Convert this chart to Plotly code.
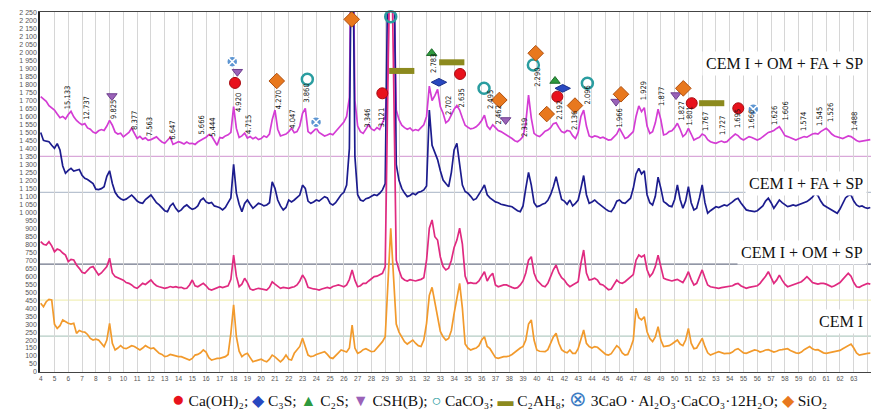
import numpy as np
import plotly.graph_objects as go

# 2-theta sampling grid (degrees), 4.0 .. 64.2 step 0.2
two_theta = np.round(np.arange(4.0, 64.21, 0.2), 1)

# Intensity (counts), one group of 5 values per degree
cem_i_om_fa_sp = [
    1724,1712,1695,1668,1652, 1640,1615,1592,1600,1585, 1612,1632,1598,1575,1560, 1548,1555,1528,1520,1502, 1495,1510,1518,1512,1540,
    1575,1545,1502,1490,1495, 1472,1485,1500,1526,1490, 1462,1475,1458,1466,1450, 1455,1462,1472,1455,1440, 1432,1448,1470,1425,1435,
    1442,1436,1428,1440,1430, 1432,1425,1440,1452,1460, 1470,1486,1478,1452,1420, 1468,1465,1478,1485,1500, 1662,1525,1468,1478,1496,
    1465,1474,1460,1470,1455, 1462,1478,1470,1490,1580, 1640,1520,1478,1482,1490, 1505,1526,1498,1505,1540, 1620,1650,1505,1492,1510,
    1526,1500,1490,1478,1484, 1492,1485,1505,1520,1545, 1565,1600,1720,3200,1700, 1540,1505,1494,1520,1548, 1522,1512,1530,1518,1560,
    1600,1900,3200,2600,1640, 1580,1545,1530,1520,1528, 1510,1518,1512,1530,1548, 1600,1790,1700,1730,1770, 1660,1620,1560,1575,1610,
    1645,1668,1640,1590,1545, 1532,1522,1526,1535,1552, 1575,1608,1540,1520,1548, 1530,1512,1505,1495,1480, 1474,1462,1448,1442,1455,
    1474,1560,1734,1590,1494, 1480,1474,1490,1508,1515, 1530,1555,1560,1530,1505, 1498,1512,1508,1480,1462, 1500,1600,1640,1540,1478,
    1470,1478,1474,1465,1470, 1460,1452,1455,1470,1490, 1525,1490,1462,1470,1490, 1505,1600,1666,1630,1655, 1540,1494,1505,1560,1645,
    1580,1484,1490,1505,1510, 1530,1557,1520,1474,1490, 1526,1490,1452,1462,1470, 1490,1480,1455,1442,1436, 1432,1440,1446,1438,1442,
    1460,1475,1490,1480,1462, 1452,1462,1474,1468,1458, 1452,1460,1472,1488,1500, 1505,1512,1525,1536,1510, 1480,1474,1466,1458,1452,
    1460,1468,1474,1470,1480, 1490,1494,1490,1505,1515, 1526,1510,1490,1478,1474, 1468,1462,1470,1478,1474, 1460,1450,1442,1445,1450,
    1452,1455,
]
cem_i_fa_sp = [
    1500,1450,1445,1442,1420, 1401,1430,1390,1290,1244, 1262,1275,1258,1262,1268, 1232,1213,1205,1195,1180, 1145,1142,1148,1160,1225,
    1260,1180,1125,1100,1085, 1077,1082,1095,1108,1090, 1070,1060,1056,1080,1095, 1108,1085,1060,1046,1030, 1010,1004,1040,1056,1025,
    1004,1015,1035,1046,1030, 1018,1025,1040,1075,1088, 1065,1056,1062,1040,1035, 1028,1015,1030,1060,1090, 1300,1120,1050,1004,1055,
    1077,1050,1025,1040,1056, 1050,1040,1046,1060,1190, 1150,1077,1040,1015,1030, 1077,1065,1077,1095,1108, 1170,1150,1070,1056,1065,
    1077,1070,1085,1098,1090, 1055,1046,1060,1085,1110, 1125,1170,1400,3200,1350, 1110,1077,1070,1085,1090, 1100,1110,1105,1119,1140,
    1180,2600,3500,2900,1300, 1200,1150,1120,1098,1105, 1119,1110,1125,1130,1140, 1165,1640,1420,1380,1330, 1260,1202,1180,1160,1250,
    1390,1432,1300,1170,1130, 1119,1100,1077,1085,1110, 1140,1171,1110,1090,1077, 1065,1060,1050,1046,1040, 1038,1035,1020,1010,1004,
    1040,1150,1250,1170,1060, 1035,1040,1050,1056,1075, 1110,1160,1223,1150,1080, 1070,1050,1077,1040,1056, 1077,1150,1230,1110,1056,
    1065,1077,1060,1045,1035, 1020,1008,1004,1030,1070, 1077,1060,1056,1070,1088, 1150,1240,1275,1240,1260, 1110,1060,1046,1100,1220,
    1150,1067,1055,1040,1035, 1080,1171,1080,1025,1070, 1160,1060,1015,1025,1090, 1171,1060,994,1010,1025, 1035,1030,1040,1046,1040,
    1050,1065,1080,1088,1060, 1035,1015,1010,1008,1004, 1010,1025,1040,1070,1088, 1060,1025,1050,1077,1060, 1045,1035,1040,1046,1040,
    1046,1055,1060,1067,1080, 1095,1119,1105,1070,1045, 1035,1025,1010,1000,994, 1020,1060,1090,1105,1108, 1070,1046,1035,1040,1030,
    1025,1030,
]
cem_i_om_sp = [
    816,800,795,816,790, 753,770,763,745,732, 691,705,701,670,649, 625,618,640,655,660, 635,607,620,639,660,
    712,620,597,590,587, 575,560,555,545,530, 524,540,555,548,560, 576,555,540,534,530, 524,528,535,530,534,
    528,530,522,524,545, 576,540,534,545,555, 540,520,513,520,530, 534,528,534,540,580, 732,600,534,550,587,
    560,520,513,518,524, 520,515,513,530,565, 550,534,524,530,528, 524,530,534,545,570, 607,580,530,524,520,
    518,513,520,524,530, 524,535,540,545,540, 534,545,580,639,575, 534,540,555,555,570, 585,597,600,610,618,
    660,1800,3000,1900,700, 639,590,576,570,578, 576,570,575,580,590, 700,900,952,847,826, 720,660,639,650,700,
    780,826,900,800,600, 555,560,555,555,570, 600,628,570,600,618, 545,534,540,545,545, 535,530,524,528,545,
    570,620,700,722,620, 576,555,540,534,555, 597,640,670,620,590, 576,550,534,545,555, 565,680,764,620,576,
    580,587,575,550,545, 530,515,520,545,576, 560,555,565,580,590, 610,700,732,720,732, 640,597,618,660,732,
    650,587,580,576,570, 575,580,570,560,590, 628,580,545,555,600, 639,590,545,534,530, 528,524,528,530,534,
    534,540,550,555,540, 530,524,530,534,534, 540,555,575,600,628, 590,555,575,607,575, 550,534,540,545,550,
    555,565,580,597,580, 560,555,550,555,555, 550,540,534,540,550, 560,580,600,618,600, 560,534,530,540,548,
    555,550,
]
cem_i = [
    430,409,440,455,451, 300,273,290,326,315, 305,300,305,242,260, 252,250,235,210,200, 205,200,180,159,200,
    305,180,138,150,165, 150,146,155,165,160, 150,138,150,165,155, 146,150,130,117,110, 96,100,110,106,100,
    96,96,90,85,75, 85,106,110,120,138, 125,90,75,80,85, 85,90,96,110,242, 420,221,130,96,110,
    117,90,64,70,75, 80,70,64,80,106, 95,80,64,80,106, 80,75,117,140,160, 211,150,106,96,100,
    110,117,120,127,110, 90,85,100,120,138, 130,125,150,294,150, 117,125,140,146,135, 127,130,150,165,190,
    221,560,900,600,300, 250,220,190,175,185, 200,180,165,160,200, 305,480,530,430,350, 254,220,200,210,260,
    367,470,555,400,175, 150,138,145,150,165, 200,221,160,146,120, 90,85,90,96,96, 100,110,125,138,150,
    160,200,300,326,200, 138,130,127,127,140, 175,220,242,180,140, 127,120,138,117,117, 146,200,263,180,159,
    150,159,155,140,120, 110,106,115,140,165, 150,120,106,110,150, 200,399,340,326,346, 252,210,190,220,284,
    200,159,160,165,175, 190,200,175,165,200, 273,180,146,150,180, 211,160,120,106,115, 120,127,120,115,117,
    117,125,140,146,130, 120,117,125,130,138, 135,125,130,138,140, 130,125,130,138,140, 145,146,135,125,120,
    117,125,140,150,159, 145,138,140,130,120, 117,120,125,127,130, 135,145,155,165,175, 150,120,106,110,115,
    117,118,
]

series_names = ["CEM I + OM + FA + SP", "CEM I + FA + SP", "CEM I + OM + SP", "CEM I"]
series_colors = ["#D43CD4", "#1C1C8E", "#E02A80", "#F29A2C"]
series_values = [cem_i_om_fa_sp, cem_i_fa_sp, cem_i_om_sp, cem_i]
draw_order = [0, 1, 3, 2]

for vals in series_values:
    if len(vals) != len(two_theta):
        raise ValueError(f"length mismatch {len(vals)} vs {len(two_theta)}")

# Coloured horizontal reference lines
ref_levels = [225, 450, 675, 1125, 1350]
ref_colors = ["#B4CCC4", "#F2F0B8", "#6E7488", "#B8C2D0", "#D9A8D9"]

# d-spacing labels above the top pattern (2-theta position, height)
d_labels = ["15.133", "12.737", "9.825", "8.377", "7.563", "6.647", "5.666", "5.444", "4.920", "4.715",
            "4.270", "4.047", "3.860", "3.346", "3.121", "2.783", "2.702", "2.635", "2.495", "2.462",
            "2.319", "2.290", "2.192", "2.136", "2.096", "1.966", "1.929", "1.877", "1.827", "1.801",
            "1.767", "1.727", "1.695", "1.666", "1.626", "1.606", "1.574", "1.545", "1.526", "1.488"]
d_label_theta = [6.00, 7.34, 9.32, 10.84, 11.88, 13.51, 15.68, 16.41, 18.32, 19.12,
                 21.24, 22.21, 23.30, 27.66, 28.70, 32.54, 33.63, 34.54, 36.61, 37.21,
                 39.15, 40.00, 41.68, 42.77, 43.67, 46.00, 47.71, 49.09, 50.43, 51.08,
                 52.21, 53.44, 54.53, 55.62, 57.21, 57.98, 59.32, 60.55, 61.35, 63.02]
d_label_height = [1722, 1653, 1641, 1578, 1534, 1515, 1547, 1534, 1684, 1547,
                  1703, 1584, 1747, 1590, 1590, 1929, 1666, 1716, 1703, 1609,
                  1528, 1847, 1641, 1578, 1734, 1590, 1758, 1722, 1634, 1603,
                  1565, 1540, 1584, 1578, 1609, 1634, 1565, 1597, 1622, 1565]

# Phase identification markers
phases = [
    dict(name="Ca(OH)\u2082;", glyph="\u25CF", gcolor="#E8121C", symbol="circle", size=11, color="#E8121C", lc="#A80A10", lw=1,
         theta=[18.10, 28.79, 34.43, 41.49, 51.24, 54.62], y=[1810, 1745, 1866, 1724, 1683, 1651]),
    dict(name="C\u2083S;", glyph="\u25C6", gcolor="#2848C0", symbol="diamond-wide", size=11, color="#2848C0", lc="#1A2F8A", lw=1,
         theta=[32.90, 41.88], y=[1814, 1776]),
    dict(name="C\u2082S;", glyph="\u25B2", gcolor="#2E9A3E", symbol="triangle-up", size=9, color="#2E9A3E", lc="#1D6B2A", lw=1,
         theta=[32.37, 41.32], y=[1996, 1822]),
    dict(name="CSH(B);", glyph="\u25BC", gcolor="#9A62B8", symbol="triangle-down", size=9, color="#9A62B8", lc="#6E3F8E", lw=1,
         theta=[9.17, 18.27, 37.74, 45.75, 50.10], y=[1728, 1880, 1578, 1693, 1734]),
    dict(name="CaCO\u2083;", glyph="\u25CB", gcolor="#2A9DA0", symbol="circle-open", size=11, color="#2A9DA0", lc="#2A9DA0", lw=2.5,
         theta=[23.35, 29.40, 36.17, 39.75, 43.67], y=[1833, 2225, 1776, 1922, 1808]),
    dict(name="C\u2082AH\u2088;", glyph="\u25AC", gcolor="#8C8A1E", symbol="line-ew", size=18, color="#8C8A1E", lc="#8C8A1E", lw=6,
         theta=[30.20, 33.83, 52.69], y=[1885, 1939, 1683]),
    dict(name="3CaO\u2009\u00B7\u2009Al\u2082O\u2083\u00B7CaCO\u2083\u00B712H\u2082O;", glyph="\u2297", gcolor="#3C7CC4",
         symbol="circle-x", size=11, color="#5E96D2", lc="#FFFFFF", lw=1.5,
         theta=[17.90, 23.98, 55.71], y=[1943, 1564, 1645]),
    dict(name="SiO\u2082", glyph="\u25C6", gcolor="#E8781E", symbol="diamond", size=12, color="#E8781E", lc="#B05010", lw=1,
         theta=[21.13, 26.57, 37.28, 39.92, 40.72, 42.77, 46.11, 50.63], y=[1822, 2208, 1703, 1996, 1615, 1668, 1739, 1776]),
]

fig = go.Figure()
for i in draw_order:
    fig.add_trace(go.Scatter(x=two_theta, y=series_values[i], mode="lines", name=series_names[i],
                             line=dict(color=series_colors[i], width=1.7), showlegend=False))

for ph in phases:
    fig.add_trace(go.Scatter(
        x=ph["theta"], y=ph["y"], mode="markers", name=ph["name"], showlegend=False, cliponaxis=False,
        marker=dict(symbol=ph["symbol"], size=ph["size"], color=ph["color"],
                    line=dict(color=ph["lc"], width=ph["lw"]))))

shapes = []
for lvl, col in zip(ref_levels, ref_colors):
    shapes.append(dict(type="line", xref="paper", x0=0, x1=1, yref="y", y0=lvl, y1=lvl,
                       line=dict(color=col, width=1.2), layer="between"))

annotations = []
for txt, th, h in zip(d_labels, d_label_theta, d_label_height):
    annotations.append(dict(x=th, y=h, xref="x", yref="y", text=txt, showarrow=False, textangle=-90,
                            font=dict(family="DejaVu Sans Condensed, Liberation Sans, Arial, sans-serif",
                                      size=7.5, color="#111111")))

label_y = [0.858, 0.525, 0.331, 0.139]
for name, ly in zip(series_names, label_y):
    annotations.append(dict(x=0.995, y=ly, xref="paper", yref="paper", xanchor="right", yanchor="middle",
                            text=name, showarrow=False, bgcolor="white", borderpad=3,
                            font=dict(family="Liberation Serif, Times New Roman, serif", size=16, color="#111111")))

legend_parts = []
for ph in phases:
    gsize = 21 if ph["glyph"] in ("\u25CF", "\u2297") else 16
    legend_parts.append(f"<span style='color:{ph['gcolor']};font-size:{gsize}px'>{ph['glyph']}</span> {ph['name']}")
annotations.append(dict(x=0.553, y=-0.076, xref="paper", yref="paper", xanchor="center", yanchor="middle",
                        text=" ".join(legend_parts), showarrow=False,
                        font=dict(family="Liberation Serif, Times New Roman, serif", size=15.5, color="#111111")))

fig.update_layout(
    width=871, height=414,
    margin=dict(l=40, r=0, t=12, b=42),
    paper_bgcolor="white", plot_bgcolor="white",
    separators=". ",
    showlegend=False,
    shapes=shapes,
    annotations=annotations,
    xaxis=dict(range=[3.95, 64.25], tickmode="linear", tick0=4, dtick=1,
               showgrid=True, gridcolor="#D6D6D6", gridwidth=1, zeroline=False,
               showline=True, linecolor="#444444", linewidth=1, mirror=True, ticks="",
               tickfont=dict(family="Liberation Sans, Arial, sans-serif", size=6.5, color="#555555")),
    yaxis=dict(range=[0, 2254], tickmode="linear", tick0=0, dtick=50, tickformat=",d",
               showgrid=False, zeroline=False, showline=True, linecolor="#222222", linewidth=1.5,
               ticks="", tickfont=dict(family="Liberation Sans, Arial, sans-serif", size=7, color="#555555")),
)

fig.write_html("out.html", config={"displayModeBar": False},
               post_script="document.body.style.margin='0px';document.body.style.overflow='hidden';")
